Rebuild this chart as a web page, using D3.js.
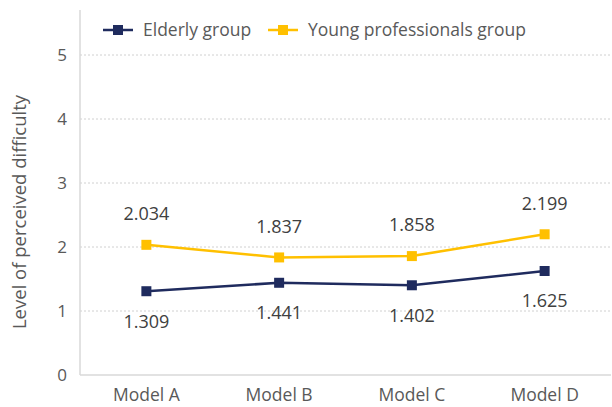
<!DOCTYPE html>
<html>
<head>
<meta charset="utf-8">
<script src="https://cdn.jsdelivr.net/npm/d3@7"></script>
<style>
  body { margin: 0; background: #fff; }
  text { font-family: "Open Sans", "Liberation Sans", sans-serif; fill: #595959; }
</style>
</head>
<body>
<div id="chart"></div>
<script>
var categories = ["Model A", "Model B", "Model C", "Model D"];
var elderly = [1.309, 1.441, 1.402, 1.625];
var young = [2.034, 1.837, 1.858, 2.199];
var yTicks = [0, 1, 2, 3, 4, 5];

var width = 612, height = 407;
var margin = {top: 55, right: 1, bottom: 32, left: 80};

var svg = d3.select("#chart").append("svg")
  .attr("width", width)
  .attr("height", height);

var x = d3.scaleBand()
  .domain(categories)
  .range([margin.left, width - margin.right]);

var y = d3.scaleLinear()
  .domain([0, 5])
  .range([height - margin.bottom, margin.top]);

// gridlines
svg.append("g").selectAll("line")
  .data(yTicks.filter(function(d){ return d > 0; }))
  .enter().append("line")
    .attr("x1", margin.left)
    .attr("x2", width - margin.right)
    .attr("y1", function(d){ return y(d); })
    .attr("y2", function(d){ return y(d); })
    .style("stroke", "#d0d0d0")
    .style("stroke-width", 1)
    .style("stroke-dasharray", "2,2");

// axes
svg.append("line")
  .attr("x1", margin.left).attr("x2", margin.left)
  .attr("y1", 10).attr("y2", y(0))
  .style("stroke", "#d9d9d9").style("stroke-width", 1.5);
svg.append("line")
  .attr("x1", margin.left).attr("x2", width - margin.right)
  .attr("y1", y(0)).attr("y2", y(0))
  .style("stroke", "#d9d9d9").style("stroke-width", 1.5);

// y tick labels
svg.append("g").selectAll("text")
  .data(yTicks).enter()
  .append("text")
    .attr("x", margin.left - 13)
    .attr("y", function(d){ return y(d); })
    .attr("dy", "0.35em")
    .attr("text-anchor", "end")
    .style("font-size", "17px")
    .text(function(d){ return d; });

// x labels
svg.append("g").selectAll("text")
  .data(categories).enter()
  .append("text")
    .attr("x", function(d){ return x(d) + x.bandwidth() / 2; })
    .attr("y", y(0) + 20)
    .attr("dy", "0.35em")
    .attr("text-anchor", "middle")
    .style("font-size", "17.5px")
    .text(function(d){ return d; });

// axis title
svg.append("text")
  .attr("transform", "translate(20," + ((margin.top + y(0)) / 2 - 3) + ") rotate(-90)")
  .attr("text-anchor", "middle")
  .attr("dy", "0.35em")
  .style("font-size", "18.5px")
  .text("Level of perceived difficulty");

var series = [
  {name: "Elderly group", values: elderly, color: "#1f2b5e", labelDy: 30},
  {name: "Young professionals group", values: young, color: "#ffc000", labelDy: -31}
];

var line = d3.line()
  .x(function(d, i){ return x(categories[i]) + x.bandwidth() / 2; })
  .y(function(d){ return y(d); });

series.forEach(function(s){
  svg.append("path")
    .datum(s.values)
    .attr("d", line)
    .style("fill", "none")
    .style("stroke", s.color)
    .style("stroke-width", 2.5);

  svg.append("g").selectAll("rect")
    .data(s.values).enter()
    .append("rect")
      .attr("x", function(d, i){ return x(categories[i]) + x.bandwidth() / 2 - 5; })
      .attr("y", function(d){ return y(d) - 5; })
      .attr("width", 10)
      .attr("height", 10)
      .style("fill", s.color);

  svg.append("g").selectAll("text")
    .data(s.values).enter()
    .append("text")
      .attr("x", function(d, i){ return x(categories[i]) + x.bandwidth() / 2; })
      .attr("y", function(d){ return y(d) + s.labelDy; })
      .attr("dy", "0.35em")
      .attr("text-anchor", "middle")
      .style("font-size", "18px")
      .style("fill", "#404040")
      .text(function(d){ return d3.format(".3f")(d); });
});

// legend
var legendX = [103, 268];
var legend = svg.append("g").selectAll("g")
  .data(series).enter()
  .append("g")
    .attr("transform", function(d, i){ return "translate(" + legendX[i] + ",30)"; });
legend.append("line")
  .attr("x1", 0).attr("x2", 30)
  .style("stroke", function(d){ return d.color; })
  .style("stroke-width", 2.5);
legend.append("rect")
  .attr("x", 10).attr("y", -5)
  .attr("width", 10).attr("height", 10)
  .style("fill", function(d){ return d.color; });
legend.append("text")
  .attr("x", 40)
  .attr("dy", "0.35em")
  .style("font-size", "17.5px")
  .text(function(d){ return d.name; });
</script>
</body>
</html>
